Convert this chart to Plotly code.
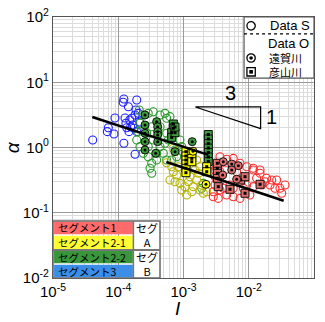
import plotly.graph_objects as go

# ---------------- data ----------------
# Data S : open circles by segment
seg3_x = [1.22e-4, 1.19e-4, 1.43e-4, 1.92e-4, 1.87e-4, 1.81e-4, 1.61e-4, 1.31e-4, 1.66e-4, 1.35e-4,
          7.05e-5, 6.8e-5, 8.6e-5, 1.22e-4, 1.81e-4, 4.06e-5, 1.74e-4, 1.55e-4, 1.46e-4, 1.92e-4,
          2.03e-4, 8.9e-5, 1.5e-4, 1.27e-4, 2.15e-4]
seg3_y = [5.54, 4.93, 4.22, 5.35, 3.76, 3.15, 2.80, 2.35, 2.21, 2.01,
          2.01, 1.75, 1.61, 1.16, 0.79, 1.30, 1.97, 2.08, 1.75, 1.75,
          3.34, 2.83, 2.64, 2.83, 2.45]

seg22_x = [2.10e-4, 2.42e-4, 2.88e-4, 3.44e-4, 4.37e-4, 5.2e-4, 5.52e-4, 6.2e-4, 2.15e-4, 2.03e-4,
           1.92e-4, 2.15e-4, 2.42e-4, 2.88e-4, 3.26e-4, 3.07e-4, 3.26e-4, 3.88e-4, 4.37e-4, 5.2e-4,
           5.85e-4, 6.98e-4, 7.41e-4, 7.87e-4, 5.52e-4, 4.37e-4, 2.73e-4, 3.44e-4, 4.9e-4, 6.59e-4,
           3.26e-4, 2.88e-4, 3.88e-4, 5.52e-4, 8.83e-4, 9.38e-4, 9.72e-4, 2.01e-3, 1.9e-3]
seg22_y = [3.76, 3.15, 3.34, 3.54, 3.15, 3.34, 2.80, 2.97, 2.35, 1.75,
           1.30, 1.03, 0.815, 0.723, 0.573, 0.48, 0.403, 0.815, 1.03, 1.16,
           1.30, 1.75, 0.916, 0.723, 1.65, 2.08, 1.65, 1.30, 0.815, 0.643,
           2.08, 1.03, 0.643, 0.643, 1.30, 1.03, 0.863, 0.282, 0.237]

seg21_x = [5.52e-4, 6.59e-4, 6.98e-4, 7.87e-4, 6.2e-4, 7.41e-4, 8.83e-4, 1.05e-3, 9.38e-4, 1.12e-3,
           1.34e-3, 1.41e-3, 1.59e-3, 1.69e-3, 1.79e-3, 1.59e-3, 1.26e-3, 1.5e-3, 1.79e-3, 2.01e-3,
           2.27e-3, 1.9e-3, 7.41e-4, 6.98e-4, 8.31e-4, 1.19e-3]
seg21_y = [0.585, 0.508, 0.426, 0.379, 0.318, 0.299, 0.282, 0.251, 0.223, 0.187,
           0.21, 0.251, 0.318, 0.403, 0.508, 0.643, 0.357, 0.452, 0.223, 0.199,
           0.21, 0.266, 0.863, 0.973, 0.508, 0.299]

seg1_x = [3.23e-3, 3.04e-3, 3.62e-3, 4.07e-3, 4.59e-3, 3.41e-3, 2.86e-3, 5.79e-3, 7.34e-3, 1.04e-2,
          1.17e-2, 1.32e-2, 1.49e-2, 1.88e-2, 2.12e-2, 2.52e-2, 3.01e-2, 3.6e-2, 2.68e-2, 1.58e-2,
          9.31e-3, 6.53e-3, 9.31e-3, 1.17e-2, 8.27e-3, 5.79e-3, 5.16e-3, 3.04e-3, 2.86e-3, 3.62e-3,
          1.77e-2, 2.25e-2, 3.2e-2, 3.62e-3, 4.32e-3, 3.62e-3, 4.59e-3, 5.79e-3, 7.34e-3, 1.17e-2,
          1.49e-2, 3.04e-3]
seg1_y = [0.48, 0.357, 0.299, 0.237, 0.187, 0.166, 0.21, 0.176, 0.166, 0.187,
          0.251, 0.337, 0.452, 0.337, 0.266, 0.237, 0.237, 0.266, 0.318, 0.266,
          0.266, 0.426, 0.508, 0.48, 0.237, 0.237, 0.266, 0.266, 0.176, 0.223,
          0.299, 0.318, 0.199, 0.426, 0.452, 0.723, 0.659, 0.682, 0.573, 0.452,
          0.403, 0.452]

# Data O : 遠賀川 (dotted circles)
onga22_x = [2.57e-4, 2.57e-4, 2.57e-4, 2.57e-4, 2.57e-4, 3.88e-4, 4.02e-4, 4.02e-4, 4.02e-4, 4.02e-4,
            3.75e-4, 7.41e-4, 1.36e-3]
onga22_y = [3.15, 2.21, 1.65, 1.23, 0.916, 2.49, 2.08, 1.75, 1.56, 1.23, 0.815, 0.863, 1.23]
onga21_x = [2.21e-3, 1.4e-3]
onga21_y = [0.273, 0.877]
onga1_x = [4.07e-3, 5.48e-3, 6.92e-3, 5.48e-3, 3.99e-3, 6.53e-3]
onga1_y = [0.605, 0.558, 0.526, 0.452, 0.379, 0.326]

# Data O : 彦山川 (dotted squares)
hiko22_x = [6.98e-4, 6.98e-4, 6.59e-4, 6.59e-4, 7.41e-4, 7.41e-4,
            2.4e-3, 2.4e-3, 2.4e-3, 2.4e-3, 2.4e-3, 2.4e-3, 2.4e-3]
hiko22_y = [2.29, 1.97, 1.69, 1.43, 1.69, 2.06,
            1.58, 1.35, 1.15, 0.98, 0.838, 0.715, 0.61]
hiko21_x = [1.09e-3, 1.09e-3, 1.09e-3, 1.09e-3, 1.09e-3, 1.09e-3, 1.34e-3, 1.34e-3, 1.34e-3,
            2.27e-3, 2.27e-3]
hiko21_y = [0.863, 0.741, 0.643, 0.558, 0.48, 0.411, 0.815, 0.682, 0.605, 0.508, 0.426]
hiko1_x = [3.3e-3, 3.3e-3, 3.3e-3, 3.41e-3, 5.16e-3, 8.77e-3, 1.49e-2, 7.52e-3, 8.77e-3, 3.3e-3]
hiko1_y = [0.48, 0.403, 0.337, 0.251, 0.229, 0.199, 0.273, 0.318, 0.357, 0.573]

# fitted lines (slope -1/3), endpoints
fitA_x = [4.0e-5, 2.4e-3]
fitA_y = [2.93, 0.77]
fitB_x = [5.46e-4, 3.43e-2]
fitB_y = [0.60, 0.153]

# slope triangle
tri_x = [1.52e-3, 1.52e-2, 1.52e-2, 1.52e-3]
tri_y = [4.18, 4.18, 1.95, 4.18]

x_tick_vals = [1e-5, 1e-4, 1e-3, 1e-2, 1e-1]
x_tick_text = ["10<sup>-5</sup>", "10<sup>-4</sup>", "10<sup>-3</sup>", "10<sup>-2</sup>", "10<sup>-1</sup>"]
y_tick_vals = [1e-2, 1e-1, 1e0, 1e1, 1e2]
y_tick_text = ["10<sup>-2</sup>", "10<sup>-1</sup>", "10<sup>0</sup>", "10<sup>1</sup>", "10<sup>2</sup>"]

seg_labels = ["セグメント1", "セグメント2-1", "セグメント2-2", "セグメント3"]
grp_labels = ["セグ<br>A", "セグ<br>B"]
river_labels = "遠賀川<br>彦山川"

# ---------------- styles ----------------
C_BLUE = "#1f1fff"
C_GREEN = "#2a9a2a"
C_OLIVE = "#b8b400"
C_RED = "#ff2a2a"
F_GREEN = "#3c9a3c"
F_YELLOW = "#ffff00"
F_RED = "#e07070"
CELL = ["#ff6a6a", "#ffff33", "#3a963a", "#3a8ee8"]
FONT = "Liberation Sans, Arial, sans-serif"
JFONT = "Noto Sans CJK JP"

fig = go.Figure()

def open_circles(x, y, c):
    fig.add_trace(go.Scatter(x=x, y=y, mode="markers", showlegend=False, hoverinfo="skip",
                             marker=dict(symbol="circle-open", size=8, color=c, line=dict(width=1.1, color=c))))

open_circles(seg3_x, seg3_y, C_BLUE)
open_circles(seg22_x, seg22_y, C_GREEN)
open_circles(seg21_x, seg21_y, C_OLIVE)
open_circles(seg1_x, seg1_y, C_RED)

def dotted(x, y, fill, sym):
    fig.add_trace(go.Scatter(x=x, y=y, mode="markers", showlegend=False, hoverinfo="skip",
                             marker=dict(symbol=sym, size=8, color=fill, line=dict(width=1, color="#111"))))
    fig.add_trace(go.Scatter(x=x, y=y, mode="markers", showlegend=False, hoverinfo="skip",
                             marker=dict(symbol=sym, size=3, color="#000", line=dict(width=0))))

dotted(hiko22_x, hiko22_y, F_GREEN, "square")
dotted(hiko21_x, hiko21_y, F_YELLOW, "square")
dotted(hiko1_x, hiko1_y, F_RED, "square")
dotted(onga22_x, onga22_y, F_GREEN, "circle")
dotted(onga21_x, onga21_y, F_YELLOW, "circle")
dotted(onga1_x, onga1_y, F_RED, "circle")

fig.add_trace(go.Scatter(x=fitA_x, y=fitA_y, mode="lines", showlegend=False, hoverinfo="skip",
                         line=dict(color="black", width=2.5)))
fig.add_trace(go.Scatter(x=fitB_x, y=fitB_y, mode="lines", showlegend=False, hoverinfo="skip",
                         line=dict(color="black", width=2.5)))
fig.add_trace(go.Scatter(x=tri_x, y=tri_y, mode="lines", showlegend=False, hoverinfo="skip",
                         line=dict(color="black", width=1.2)))

minor_x = [m * 10.0 ** e for e in range(-5, -1) for m in range(2, 10)]
minor_y = [m * 10.0 ** e for e in range(-2, 2) for m in range(2, 10)]

shapes = []
# top-right legend box
shapes.append(dict(type="rect", xref="paper", yref="paper", x0=0.732, x1=1.0, y0=0.766, y1=1.0,
                   fillcolor="white", line=dict(color="#555", width=1.2), layer="above"))
shapes.append(dict(type="line", xref="paper", yref="paper", x0=0.732, x1=1.0, y0=0.935, y1=0.935,
                   line=dict(color="black", width=1.2, dash="dot"), layer="above"))
# bottom-left table
rows = [(0.1648, 0.2184), (0.1073, 0.1648), (0.0536, 0.1073), (0.0, 0.0536)]
for (y0, y1), c in zip(rows, CELL):
    shapes.append(dict(type="rect", xref="paper", yref="paper", x0=0.004, x1=0.306, y0=y0 + 0.003, y1=y1 - 0.003,
                       fillcolor=c, line=dict(width=0), layer="above"))
shapes.append(dict(type="rect", xref="paper", yref="paper", x0=0.31, x1=0.41, y0=0.0, y1=0.2184,
                   fillcolor="white", line=dict(width=0), layer="above"))
shapes.append(dict(type="rect", xref="paper", yref="paper", x0=0.0, x1=0.41, y0=0.0, y1=0.2184,
                   fillcolor="rgba(0,0,0,0)", line=dict(color="#666", width=1.5), layer="above"))
shapes.append(dict(type="line", xref="paper", yref="paper", x0=0.0, x1=0.41, y0=0.1073, y1=0.1073,
                   line=dict(color="#777", width=2), layer="above"))
shapes.append(dict(type="line", xref="paper", yref="paper", x0=0.308, x1=0.308, y0=0.0, y1=0.2184,
                   line=dict(color="#777", width=1.5), layer="above"))
# legend symbols (drawn as shapes in paper space)
sx, sr = 0.759, 0.016
ya, yb = 0.843, 0.790
shapes.append(dict(type="circle", xref="paper", yref="paper", x0=sx - sr, x1=sx + sr, y0=0.966 - sr, y1=0.966 + sr,
                   line=dict(color="black", width=1.3), layer="above"))
shapes.append(dict(type="circle", xref="paper", yref="paper", x0=sx - sr, x1=sx + sr, y0=ya - sr, y1=ya + sr,
                   line=dict(color="black", width=1.3), layer="above"))
shapes.append(dict(type="circle", xref="paper", yref="paper", x0=sx - 0.007, x1=sx + 0.007, y0=ya - 0.007, y1=ya + 0.007,
                   fillcolor="black", line=dict(color="black", width=0), layer="above"))
shapes.append(dict(type="rect", xref="paper", yref="paper", x0=sx - sr, x1=sx + sr, y0=yb - sr, y1=yb + sr,
                   line=dict(color="black", width=1.3), layer="above"))
shapes.append(dict(type="rect", xref="paper", yref="paper", x0=sx - 0.007, x1=sx + 0.007, y0=yb - 0.007, y1=yb + 0.007,
                   fillcolor="black", line=dict(color="black", width=0), layer="above"))

ann = []
ann.append(dict(x=0.825, y=0.966, xref="paper", yref="paper", text="Data S", showarrow=False,
                xanchor="left", yanchor="middle", font=dict(family=FONT, size=13, color="black")))
ann.append(dict(x=0.99, y=0.900, xref="paper", yref="paper", text="Data O", showarrow=False,
                xanchor="right", yanchor="middle", font=dict(family=FONT, size=13, color="black")))
ann.append(dict(x=0.825, y=(ya + yb) / 2, xref="paper", yref="paper", text=river_labels, showarrow=False,
                xanchor="left", yanchor="middle", align="left", borderpad=0,
                font=dict(family=JFONT, size=11, color="black")))
for (y0, y1), t in zip(rows, seg_labels):
    ann.append(dict(x=0.013, y=(y0 + y1) / 2, xref="paper", yref="paper", text=t, showarrow=False,
                    xanchor="left", yanchor="middle", font=dict(family=JFONT, size=10.5, color="black")))
for (y0, y1), t in zip([(0.1073, 0.2184), (0.0, 0.1073)], grp_labels):
    ann.append(dict(x=0.359, y=(y0 + y1) / 2, xref="paper", yref="paper", text=t, showarrow=False,
                    xanchor="center", yanchor="middle", borderpad=0,
                    font=dict(family=JFONT, size=11, color="black")))
ann.append(dict(x=-2.277, y=0.835, xref="x", yref="y", text="3", showarrow=False,
                font=dict(family=FONT, size=20, color="black")))
ann.append(dict(x=-1.654, y=0.467, xref="x", yref="y", text="1", showarrow=False,
                font=dict(family=FONT, size=20, color="black")))
# axis titles
ann.append(dict(x=0.479, y=-0.118, xref="paper", yref="paper", text="<i>I</i>", showarrow=False,
                xanchor="center", yanchor="middle", font=dict(family=FONT, size=19, color="black")))
ann.append(dict(x=-0.152, y=0.502, xref="paper", yref="paper", text="<i>α</i>", showarrow=False, textangle=-90,
                xanchor="center", yanchor="middle", font=dict(family=FONT, size=19, color="black")))

fig.update_layout(
    width=325, height=322,
    margin=dict(l=53, r=11, t=17, b=44),
    paper_bgcolor="white", plot_bgcolor="white",
    shapes=shapes, annotations=ann,
    hovermode=False,
    font=dict(family=FONT, size=15, color="black"),
    xaxis=dict(type="log", range=[-5, -1], tickmode="array", tickvals=x_tick_vals, ticktext=x_tick_text,
               automargin=False,
               showgrid=True, gridcolor="#9a9a9a", gridwidth=1, zeroline=False,
               showline=True, mirror=True, linecolor="#555", linewidth=1.2, ticks="",
               minor=dict(tickmode="array", tickvals=minor_x, showgrid=True, gridcolor="#dcdcdc", gridwidth=1, ticks=""),
               tickfont=dict(family=FONT, size=15)),
    yaxis=dict(type="log", range=[-2, 2], tickmode="array", tickvals=y_tick_vals, ticktext=y_tick_text,
               automargin=False,
               showgrid=True, gridcolor="#9a9a9a", gridwidth=1, zeroline=False,
               showline=True, mirror=True, linecolor="#555", linewidth=1.2, ticks="",
               minor=dict(tickmode="array", tickvals=minor_y, showgrid=True, gridcolor="#dcdcdc", gridwidth=1, ticks=""),
               tickfont=dict(family=FONT, size=15)),
)

fig.write_html("out.html", config={"displayModeBar": False},
               post_script="document.body.style.margin='0';document.body.style.overflow='hidden';")
